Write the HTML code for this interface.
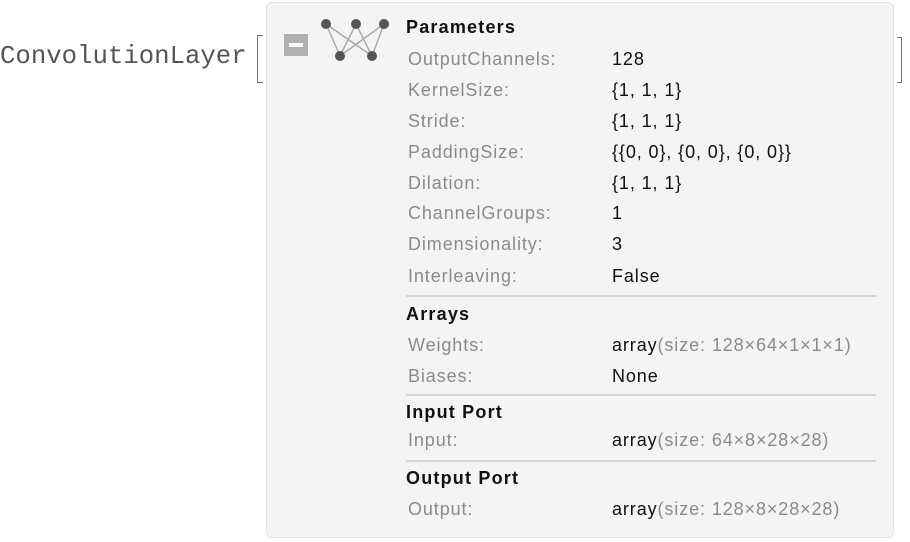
<!DOCTYPE html><html><head><style>
body{margin:0;width:910px;height:542px;background:#fff;position:relative;overflow:hidden;font-family:"Liberation Sans",sans-serif}
.a{position:absolute;white-space:nowrap}
.l{position:absolute;left:408px;font-size:18px;letter-spacing:0.9px;color:#8a8a8a;line-height:20px}
.v{position:absolute;left:612px;font-size:18px;letter-spacing:0.9px;color:#111;line-height:20px}
.h{position:absolute;left:406px;font-size:18px;letter-spacing:1.2px;font-weight:bold;color:#111;line-height:20px}
.g{color:#8a8a8a}
.d{position:absolute;left:406px;width:470px;height:2px;background:#d6d6d6}
</style></head><body>
<div class="a" style="left:0;top:42px;font-family:'Liberation Mono',monospace;font-size:25.7px;color:#555">ConvolutionLayer</div>
<div class="a" style="left:257px;top:35px;width:5px;height:46px;border:1.5px solid #777;border-right:none"></div>
<div class="a" style="left:897px;top:37px;width:4px;height:44px;border:1.5px solid #777;border-left:none"></div>
<div class="a" style="left:266px;top:2px;width:626px;height:534px;background:#f4f4f4;border:1px solid #e2e2e2;border-radius:6px"></div>
<div class="a" style="left:284px;top:34px;width:24px;height:22px;background:#b0b0b0"></div>
<div class="a" style="left:289px;top:43px;width:14px;height:4px;background:#fff"></div>
<svg class="a" style="left:318px;top:16px" width="72" height="48">
<g stroke="#aaa" stroke-width="1.5"><line x1="8" y1="8" x2="22" y2="40"/><line x1="8" y1="8" x2="54" y2="40"/><line x1="38" y1="8" x2="22" y2="40"/><line x1="38" y1="8" x2="54" y2="40"/><line x1="66" y1="8" x2="22" y2="40"/><line x1="66" y1="8" x2="54" y2="40"/></g>
<g fill="#555"><circle cx="8" cy="8" r="5"/><circle cx="38" cy="8" r="5"/><circle cx="66" cy="8" r="5"/><circle cx="22" cy="40" r="5"/><circle cx="54" cy="40" r="5"/></g></svg>
<div class="h" style="top:17px">Parameters</div>
<div class="l" style="top:49px">OutputChannels:</div><div class="v" style="top:49px">128</div>
<div class="l" style="top:80px">KernelSize:</div><div class="v" style="top:80px">{1, 1, 1}</div>
<div class="l" style="top:111px">Stride:</div><div class="v" style="top:111px">{1, 1, 1}</div>
<div class="l" style="top:142px">PaddingSize:</div><div class="v" style="top:142px">{{0, 0}, {0, 0}, {0, 0}}</div>
<div class="l" style="top:173px">Dilation:</div><div class="v" style="top:173px">{1, 1, 1}</div>
<div class="l" style="top:203px">ChannelGroups:</div><div class="v" style="top:203px">1</div>
<div class="l" style="top:234px">Dimensionality:</div><div class="v" style="top:234px">3</div>
<div class="l" style="top:266px">Interleaving:</div><div class="v" style="top:266px">False</div>
<div class="d" style="top:295px"></div>
<div class="h" style="top:304px">Arrays</div>
<div class="l" style="top:335px">Weights:</div><div class="v" style="top:335px">array<span class="g">(size: 128×64×1×1×1)</span></div>
<div class="l" style="top:366px">Biases:</div><div class="v" style="top:366px">None</div>
<div class="d" style="top:394px"></div>
<div class="h" style="top:402px">Input Port</div>
<div class="l" style="top:430px">Input:</div><div class="v" style="top:430px">array<span class="g">(size: 64×8×28×28)</span></div>
<div class="d" style="top:460px"></div>
<div class="h" style="top:468px">Output Port</div>
<div class="l" style="top:499px">Output:</div><div class="v" style="top:499px">array<span class="g">(size: 128×8×28×28)</span></div>
</body></html>
